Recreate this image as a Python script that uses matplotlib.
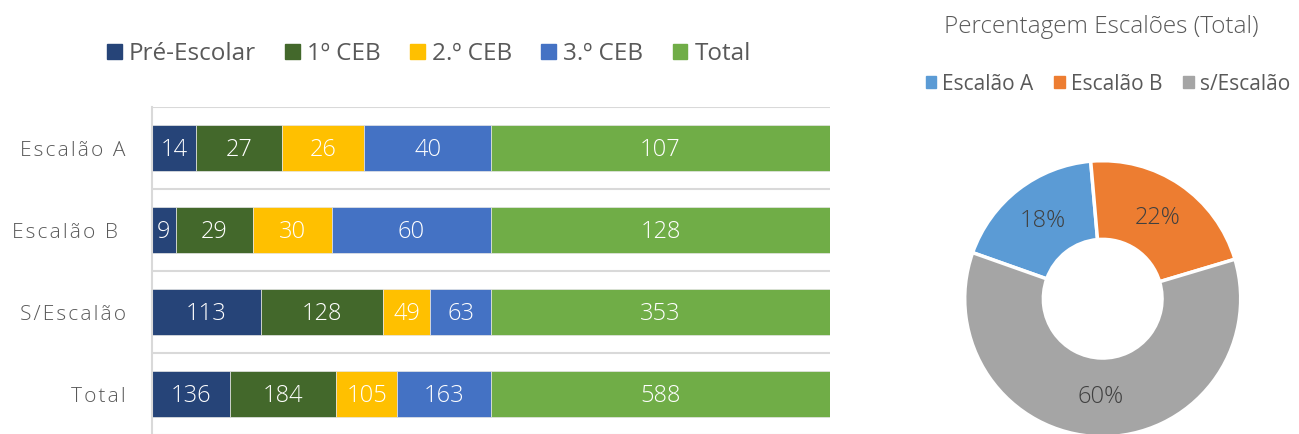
import numpy as np
import matplotlib.pyplot as plt
from matplotlib.patches import Patch

plt.rcParams['font.family'] = ['Open Sans', 'DejaVu Sans']

# data
categories = ["Escalão A", "Escalão B ", "S/Escalão", "Total"]
series_names = ["Pré-Escolar", "1º CEB", "2.º CEB", "3.º CEB", "Total"]
pre_escolar = [14, 9, 113, 136]
ceb1 = [27, 29, 128, 184]
ceb2 = [26, 30, 49, 105]
ceb3 = [40, 60, 63, 163]
total = [107, 128, 353, 588]

pie_labels = ["Escalão A", "Escalão B", "s/Escalão"]
pie_values = [107, 128, 353]

bar_colors = ["#264478", "#43682B", "#FFC000", "#4472C4", "#70AD47"]
pie_colors = ["#5B9BD5", "#ED7D31", "#A5A5A5"]
grey_txt = "#595959"

W, H = 1299, 434
fig = plt.figure(figsize=(W / 100, H / 100), dpi=100)

# 100% stacked bars
ax = fig.add_axes([152 / W, (H - 435) / H, 678 / W, 328 / H])
series = np.array([pre_escolar, ceb1, ceb2, ceb3, total], dtype=float)
row_sum = series.sum(axis=0)
y = np.arange(len(categories))
left = np.zeros(len(categories))
for vals, col in zip(series, bar_colors):
    frac = vals / row_sum
    ax.barh(y, frac, left=left, height=0.55, color=col, edgecolor="#E6E6E6", linewidth=0.5)
    for yi, (l, f, v) in enumerate(zip(left, frac, vals)):
        ax.text(l + f / 2, yi + 0.02, f"{int(v)}", ha="center", va="center",
                color="white", fontsize=17, fontweight="light")
    left += frac

ax.set_xlim(0, 1)
ax.set_ylim(len(categories) - 0.5, -0.5)
for b in np.arange(-0.5, len(categories), 1.0):
    ax.axhline(b, color="#D9D9D9", lw=1.5, zorder=0)
ax.set_yticks(y)
ax.set_yticklabels(["\u200a".join(c) for c in categories], color=grey_txt,
                   fontsize=15, fontweight="light")
ax.tick_params(axis="y", length=0, pad=19)
ax.set_xticks([])
for s in ["top", "right", "bottom"]:
    ax.spines[s].set_visible(False)
ax.spines["left"].set_color("#D9D9D9")
ax.spines["left"].set_linewidth(1.5)

handles = [Patch(color=c) for c in bar_colors]
fig.legend(handles, series_names, loc="center", bbox_to_anchor=(429 / W, 1 - 54 / H),
           ncol=5, frameon=False, fontsize=17.5, handlelength=0.6, handleheight=0.6,
           handletextpad=0.3, columnspacing=1.2, labelcolor=grey_txt)

# donut
r = 138
cx, cy = 1102.7, 298.7
pax = fig.add_axes([(cx - r) / W, (H - cy - r) / H, 2 * r / W, 2 * r / H])
wedges, texts, autotexts = pax.pie(
    pie_values, colors=pie_colors, startangle=160.5, counterclock=False,
    autopct="%1.0f%%", pctdistance=0.71,
    wedgeprops=dict(width=0.57, edgecolor="white", linewidth=2.5),
    textprops=dict(color="#404040", fontsize=17, fontweight="light"))
pax.set_xlim(-1, 1)
pax.set_ylim(-1, 1)
pax.set_aspect("equal")
for w in wedges:
    w.set_clip_on(False)

fig.text(1101 / W, 1 - 27 / H, "Percentagem Escalões (Total)", ha="center", va="center",
         color=grey_txt, fontsize=17.5, fontweight="light")
fig.legend([Patch(color=c) for c in pie_colors], pie_labels, loc="center",
           bbox_to_anchor=(1108 / W, 1 - 84 / H), ncol=3, frameon=False, fontsize=15,
           handlelength=0.5, handleheight=0.5, handletextpad=0.3, columnspacing=1.0,
           labelcolor=grey_txt)

fig.savefig("out.png", dpi=100)
